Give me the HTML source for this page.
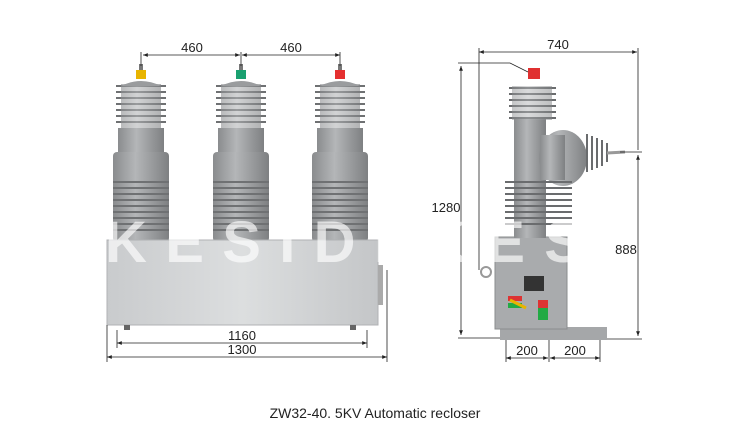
<!DOCTYPE html>
<html><head><style>body{margin:0;background:#fff}svg{display:block}</style></head><body>
<svg width="750" height="435" viewBox="0 0 750 435" xmlns="http://www.w3.org/2000/svg" font-family="Liberation Sans, sans-serif">
<defs>
<linearGradient id="g" x1="0" x2="1"><stop offset="0" stop-color="#8a8c8e"/><stop offset=".4" stop-color="#b4b6b8"/><stop offset="1" stop-color="#7e8082"/></linearGradient>
<linearGradient id="b" x1="0" x2="1"><stop offset="0" stop-color="#c9cbcd"/><stop offset=".5" stop-color="#dcdedf"/><stop offset="1" stop-color="#c4c6c8"/></linearGradient>
<marker id="a" viewBox="0 0 10 10" refX="10" refY="5" markerWidth="6" markerHeight="6" orient="auto-start-reverse"><path d="M0,1 L10,5 L0,9z" fill="#222"/></marker>
<g id="p1">
<rect x="-23" y="128" width="46" height="30" fill="url(#g)"/>
<rect x="-28" y="152" width="56" height="90" rx="4" fill="url(#g)"/>
<g stroke="#6f7173" stroke-width="2">
<line x1="-25" y1="86" x2="25" y2="86"/><line x1="-25" y1="92" x2="25" y2="92"/><line x1="-25" y1="98" x2="25" y2="98"/><line x1="-25" y1="104" x2="25" y2="104"/><line x1="-25" y1="110" x2="25" y2="110"/><line x1="-25" y1="116" x2="25" y2="116"/><line x1="-25" y1="122" x2="25" y2="122"/>
<line x1="-28" y1="182" x2="28" y2="182"/><line x1="-28" y1="188" x2="28" y2="188"/><line x1="-28" y1="194" x2="28" y2="194"/><line x1="-28" y1="200" x2="28" y2="200"/><line x1="-28" y1="206" x2="28" y2="206"/><line x1="-28" y1="212" x2="28" y2="212"/><line x1="-28" y1="218" x2="28" y2="218"/><line x1="-28" y1="224" x2="28" y2="224"/><line x1="-28" y1="230" x2="28" y2="230"/>
</g>
<rect x="-20" y="84" width="40" height="44" fill="url(#g)" opacity=".6"/>
<path d="M-20,86 Q0,76 20,86z" fill="#9a9c9e"/>
<rect x="-2" y="64" width="4" height="8" fill="#777"/>
</g>
</defs>
<use href="#p1" x="141"/><use href="#p1" x="241"/><use href="#p1" x="340"/>
<rect x="136" y="70" width="10" height="9" fill="#e8b400"/>
<rect x="236" y="70" width="10" height="9" fill="#1aa070"/>
<rect x="335" y="70" width="10" height="9" fill="#e53030"/>
<rect x="107" y="240" width="271" height="85" fill="url(#b)" stroke="#b0b2b4"/>
<rect x="124" y="325" width="6" height="5" fill="#666"/><rect x="350" y="325" width="6" height="5" fill="#666"/>
<rect x="378" y="265" width="5" height="40" fill="#aaa"/>
<!-- right device -->
<rect x="500" y="327" width="107" height="13" fill="#a5a7a9"/>
<rect x="495" y="237" width="72" height="92" fill="#a9abad" stroke="#8a8c8e"/>
<rect x="514" y="118" width="32" height="120" fill="url(#g)"/>
<ellipse cx="563" cy="158" rx="24" ry="28" fill="url(#g)"/>
<rect x="540" y="135" width="25" height="45" fill="url(#g)"/>
<g stroke="#6a6c6e" stroke-width="2">
<line x1="587" y1="134" x2="587" y2="172"/><line x1="592" y1="136" x2="592" y2="170"/><line x1="597" y1="138" x2="597" y2="168"/><line x1="602" y1="140" x2="602" y2="166"/><line x1="607" y1="143" x2="607" y2="162"/>
<line x1="509" y1="88" x2="556" y2="88"/><line x1="509" y1="94" x2="556" y2="94"/><line x1="509" y1="100" x2="556" y2="100"/><line x1="509" y1="106" x2="556" y2="106"/><line x1="509" y1="112" x2="556" y2="112"/><line x1="509" y1="118" x2="556" y2="118"/>
<line x1="505" y1="182" x2="572" y2="182"/><line x1="505" y1="188" x2="572" y2="188"/><line x1="505" y1="194" x2="572" y2="194"/><line x1="505" y1="200" x2="572" y2="200"/><line x1="505" y1="206" x2="572" y2="206"/><line x1="505" y1="212" x2="572" y2="212"/><line x1="505" y1="218" x2="572" y2="218"/><line x1="505" y1="224" x2="572" y2="224"/>
</g>
<rect x="512" y="86" width="40" height="34" fill="url(#g)" opacity=".5"/>
<line x1="607" y1="153" x2="625" y2="152" stroke="#999" stroke-width="3"/>
<rect x="528" y="68" width="12" height="11" fill="#e03030"/>
<rect x="524" y="276" width="20" height="15" fill="#333"/>
<rect x="508" y="296" width="14" height="5" fill="#d33"/><rect x="508" y="303" width="14" height="5" fill="#2a4"/>
<rect x="538" y="300" width="10" height="20" fill="#2a4"/><rect x="538" y="300" width="10" height="8" fill="#d33"/>
<line x1="526" y1="308" x2="510" y2="300" stroke="#e8b400" stroke-width="3"/>
<circle cx="486" cy="272" r="5" fill="none" stroke="#999" stroke-width="2"/>
<!-- dimensions -->
<g stroke="#222" stroke-width="0.8" fill="none">
<line x1="143" y1="55" x2="240" y2="55" marker-start="url(#a)" marker-end="url(#a)"/>
<line x1="242" y1="55" x2="340" y2="55" marker-start="url(#a)" marker-end="url(#a)"/>
<line x1="141" y1="52" x2="141" y2="66"/><line x1="241" y1="52" x2="241" y2="66"/><line x1="340" y1="52" x2="340" y2="66"/>
<line x1="117" y1="343" x2="367" y2="343" marker-start="url(#a)" marker-end="url(#a)"/>
<line x1="107" y1="357" x2="387" y2="357" marker-start="url(#a)" marker-end="url(#a)"/>
<line x1="107" y1="325" x2="107" y2="362"/><line x1="387" y1="270" x2="387" y2="362"/>
<line x1="117" y1="330" x2="117" y2="348"/><line x1="367" y1="330" x2="367" y2="348"/>
<line x1="479" y1="52" x2="637" y2="52" marker-start="url(#a)" marker-end="url(#a)"/>
<line x1="479" y1="48" x2="479" y2="270"/><line x1="638" y1="48" x2="638" y2="150"/>
<line x1="461" y1="66" x2="461" y2="335" marker-start="url(#a)" marker-end="url(#a)"/>
<polyline points="458,63 510,63 528,72"/><line x1="458" y1="338" x2="500" y2="338"/>
<line x1="638" y1="155" x2="638" y2="336" marker-start="url(#a)" marker-end="url(#a)"/>
<line x1="620" y1="152" x2="642" y2="152"/><line x1="607" y1="339" x2="642" y2="339"/>
<line x1="506" y1="358" x2="548" y2="358" marker-start="url(#a)" marker-end="url(#a)"/>
<line x1="550" y1="358" x2="600" y2="358" marker-start="url(#a)" marker-end="url(#a)"/>
<line x1="506" y1="340" x2="506" y2="362"/><line x1="549" y1="340" x2="549" y2="362"/><line x1="600" y1="340" x2="600" y2="362"/>
</g>
<g font-size="58" font-weight="bold" fill="#fff" fill-opacity=".65">
<text x="105" y="262" textLength="285" lengthAdjust="spacing">KESIDI</text>
<text x="425" y="262" textLength="290" lengthAdjust="spacing">KESIDI</text>
</g>
<g font-size="13" fill="#222" text-anchor="middle">
<text x="192" y="52">460</text><text x="291" y="52">460</text>
<text x="242" y="340">1160</text><text x="242" y="354">1300</text>
<text x="558" y="49">740</text>
<text x="446" y="212">1280</text><text x="626" y="254">888</text>
<text x="527" y="355">200</text><text x="575" y="355">200</text>
<text x="375" y="418" font-size="14">ZW32-40. 5KV Automatic recloser</text>
</g>
</svg>
</body></html>
